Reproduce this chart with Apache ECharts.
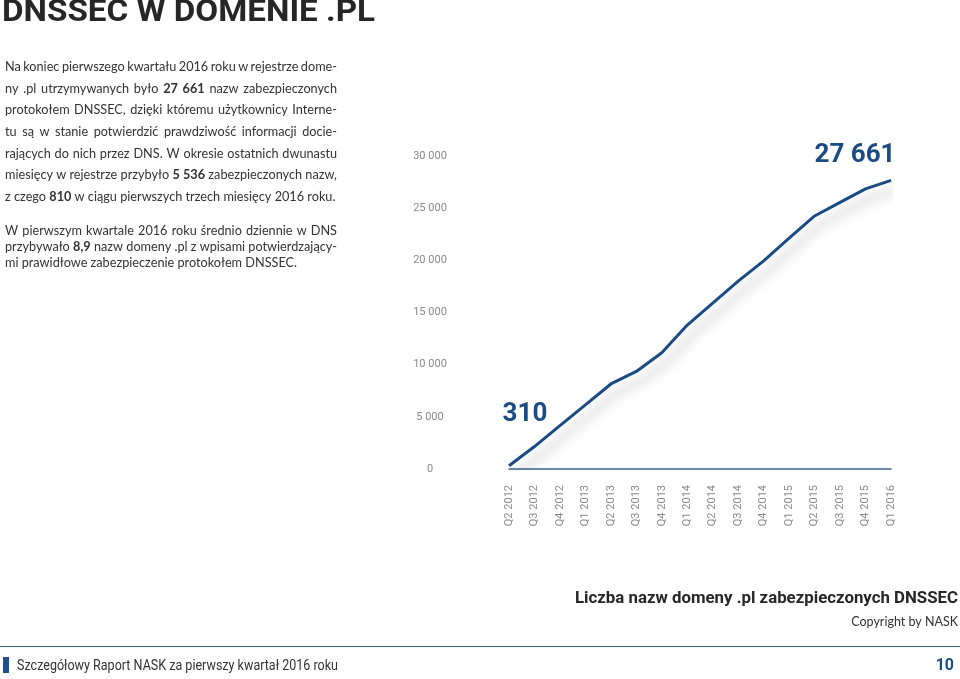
<!DOCTYPE html>
<html><head><meta charset="utf-8">
<script src="https://cdn.jsdelivr.net/npm/echarts@6/dist/echarts.min.js"></script>
<style>html,body{margin:0;padding:0;background:#fff}#c{width:960px;height:679px}</style>
</head><body><div id="c"></div>
<script>
const categories = ['Q2 2012','Q3 2012','Q4 2012','Q1 2013','Q2 2013','Q3 2013','Q4 2013','Q1 2014','Q2 2014','Q3 2014','Q4 2014','Q1 2015','Q2 2015','Q3 2015','Q4 2015','Q1 2016'];
const values = [310, 2150, 4150, 6150, 8150, 9350, 11150, 13800, 15900, 18000, 19950, 22125, 24250, 25550, 26851, 27661];
const yTicks = [0, 5000, 10000, 15000, 20000, 25000, 30000];

const titleText = 'DNSSEC W DOMENIE .PL';
const para1 = [
  'Na koniec pierwszego kwartału 2016 roku w rejestrze dome-',
  'ny .pl utrzymywanych było **27** **661** nazw zabezpieczonych',
  'protokołem DNSSEC, dzięki któremu użytkownicy Interne-',
  'tu są w stanie potwierdzić prawdziwość informacji docie-',
  'rających do nich przez DNS. W okresie ostatnich dwunastu',
  'miesięcy w rejestrze przybyło **5** **536** zabezpieczonych nazw,',
  'z czego **810** w ciągu pierwszych trzech miesięcy 2016 roku.'
];
const para2 = [
  'W pierwszym kwartale 2016 roku średnio dziennie w DNS',
  'przybywało **8,9** nazw domeny .pl z wpisami potwierdzający-',
  'mi prawidłowe zabezpieczenie protokołem DNSSEC.'
];
const captionText = 'Liczba nazw domeny .pl zabezpieczonych DNSSEC';
const copyrightText = 'Copyright by NASK';
const footerText = 'Szczegółowy Raport NASK za pierwszy kwartał 2016 roku';
const pageNum = '10';

const fmt = v => String(v).replace(/\B(?=(\d{3})+(?!\d))/g, ' ');
const BLUE = '#1b4b84';

const cv = document.createElement('canvas').getContext('2d');
function measure(text, font){ cv.font = font; return cv.measureText(text).width; }

const graphics = [];
function fitText(text, font, fill, x, y, width, align){
  const w = measure(text, font);
  graphics.push({type:'text', x:x, y:y, scaleX: width / w,
    style:{text:text, font:font, fill:fill, textAlign:align||'left', textVerticalAlign:'middle'}});
}
const BODY_SIZE = 12.7, BODY_FAM = 'Lato';
const fontR = `normal ${BODY_SIZE}px ${BODY_FAM}`;
const fontB = `bold ${BODY_SIZE}px ${BODY_FAM}`;
function justifyLines(lines, x0, x1, y0, lh){
  lines.forEach((line, li) => {
    const words = line.split(' ').map(w => {
      const b = /^\*\*.*\*\*$/.test(w);
      return {t: b ? w.slice(2,-2) : w, b: b};
    });
    words.forEach(w => w.w = measure(w.t, w.b ? fontB : fontR));
    const total = words.reduce((s,w)=>s+w.w,0);
    const last = li === lines.length - 1;
    const space = measure(' ', fontR);
    let gap = (last || words.length < 2) ? space : (x1 - x0 - total) / (words.length - 1);
    let sx = 1;
    if (gap < 2.2) { sx = (x1 - x0 - 2.2 * (words.length - 1)) / total; gap = 2.2; }
    let x = x0;
    const y = y0 + li * lh;
    words.forEach(w => {
      graphics.push({type:'text', x:x, y:y, scaleX:sx, style:{text:w.t, font: w.b ? fontB : fontR, fill:'#333', textVerticalAlign:'middle'}});
      x += w.w * sx + gap;
    });
  });
}

fitText(titleText, 'bold 32px Roboto', '#262626', 2, 13, 373, 'left');
justifyLines(para1, 5, 337, 67, 21.6);
justifyLines(para2, 5, 337, 231, 15.7);
fitText(captionText, 'bold 16px Roboto', '#262626', 958, 599, 383, 'right');
graphics.push({type:'text', x:958, y:622, style:{text:copyrightText, font:'normal 12.5px Lato', fill:'#333', textAlign:'right', textVerticalAlign:'middle'}});
graphics.push({type:'line', shape:{x1:0, y1:646.5, x2:960, y2:646.5}, style:{stroke:'#2f5f8f', lineWidth:1}});
graphics.push({type:'rect', shape:{x:3, y:657, width:6, height:16}, style:{fill:'#1f4f8f'}});
fitText(footerText, 'normal 14px Roboto', '#333', 17, 666, 321, 'left');
graphics.push({type:'text', x:954, y:666, style:{text:pageNum, font:'bold 16px Roboto', fill:BLUE, textAlign:'right', textVerticalAlign:'middle'}});

const chart = echarts.init(document.getElementById('c'), null, {renderer:'canvas'});
const lastIdx = values.length - 1;
chart.setOption({
  animation:false,
  grid:{left:509, right:69, top:156, bottom:210},
  xAxis:{type:'category', data:categories, boundaryGap:false,
    axisLine:{lineStyle:{color:'#3a6591', width:1.5}},
    axisTick:{show:false},
    axisLabel:{rotate:90, color:'#8a8a8a', fontSize:11, fontFamily:'Roboto', margin:16}},
  yAxis:{type:'value', min:yTicks[0], max:yTicks[yTicks.length-1], interval:yTicks[1]-yTicks[0],
    axisLine:{show:false}, axisTick:{show:false}, splitLine:{show:false},
    axisLabel:{color:'#8a8a8a', fontSize:11, fontFamily:'Roboto', align:'center', margin:79, formatter:v=>fmt(v)}},
  series:[{type:'line', symbol:'circle', symbolSize:0, showSymbol:true,
    lineStyle:{color:BLUE, width:3, shadowColor:'rgba(0,0,0,0.3)', shadowBlur:12, shadowOffsetX:6, shadowOffsetY:9},
    itemStyle:{color:BLUE},
    data: values.map((v,i) => {
      if (i === 0) return {value:v, label:{show:true, position:'top', offset:[16,-33], formatter:p=>fmt(p.value), color:BLUE, fontSize:26, fontWeight:'bold', fontFamily:'Roboto'}};
      if (i === lastIdx) return {value:v, label:{show:true, position:'top', offset:[-36,-7], formatter:p=>fmt(p.value), color:BLUE, fontSize:26, fontWeight:'bold', fontFamily:'Roboto'}};
      return v;
    })
  }],
  graphic: graphics
});
</script></body></html>
